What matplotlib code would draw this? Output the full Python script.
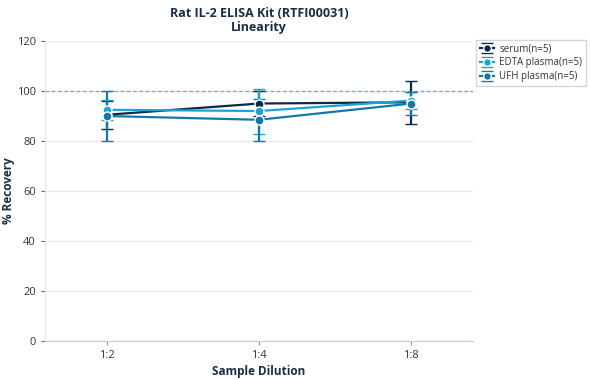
import numpy as np
import matplotlib.pyplot as plt

plt.rcParams['font.family'] = ['Open Sans', 'Noto Sans', 'DejaVu Sans']

dilutions = ["1:2", "1:4", "1:8"]
series = ["serum(n=5)", "EDTA plasma(n=5)", "UFH plasma(n=5)"]
means = [
    [90.5, 95.0, 95.5],
    [92.5, 92.0, 96.2],
    [90.0, 88.5, 95.0],
]
errs = [
    [5.5, 5.0, 8.5],
    [4.0, 9.0, 3.5],
    [10.0, 8.3, 4.5],
]
colors = ["#0b2a4a", "#1ba3d6", "#1478a6"]

fig = plt.figure(figsize=(5.9, 3.8), dpi=100)
ax = fig.add_axes([0.076, 0.1026, 0.726, 0.7894])

x = np.arange(len(dilutions))
for name, m, e, c in zip(series, means, errs, colors):
    ax.errorbar(x, m, yerr=e, color=c, lw=1.6, marker="o", ms=6.5,
                mec="white", mew=1, capsize=4, capthick=1.6, elinewidth=1.6,
                label=name, zorder=3)

ax.axhline(100, color="#4fb6e2", lw=0.9, ls=(0, (3, 2)), zorder=2)

ax.set_xlim(-0.408, 2.408)
ax.set_ylim(0, 120)
ax.set_yticks(range(0, 121, 20))
ax.set_xticks(x)
ax.set_xticklabels(dilutions)
ax.yaxis.grid(True, color="#e6e9ee", lw=1)
ax.set_axisbelow(True)

for s in ["top", "right"]:
    ax.spines[s].set_visible(False)
ax.spines["left"].set_color("#e0e4ea")
ax.spines["bottom"].set_color("#c8ced6")
ax.tick_params(colors="#333333", labelsize=8, length=3)
ax.tick_params(axis="y", color="#666666")
ax.tick_params(axis="x", color="#999999")

ax.set_xlabel("Sample Dilution", fontsize=8.5, fontweight="bold", color="#1a2e45",
              labelpad=3)
ax.set_ylabel("% Recovery", fontsize=8.5, fontweight="bold", color="#1a2e45",
              labelpad=1)
ax.set_title("Rat IL-2 ELISA Kit (RTFI00031)\nLinearity", fontsize=9,
             fontweight="bold", color="#1a2e45", linespacing=1.1, pad=7)

leg = ax.legend(loc="upper left", bbox_to_anchor=(1.003, 1.01), fontsize=7,
                frameon=True, fancybox=False, edgecolor="#cccccc",
                handlelength=1.5, handletextpad=0.5, borderpad=0.35,
                borderaxespad=0.2, labelspacing=0.3, markerscale=0.85)
for t in leg.get_texts():
    t.set_color("#333333")

fig.savefig("out.png", dpi=100)
